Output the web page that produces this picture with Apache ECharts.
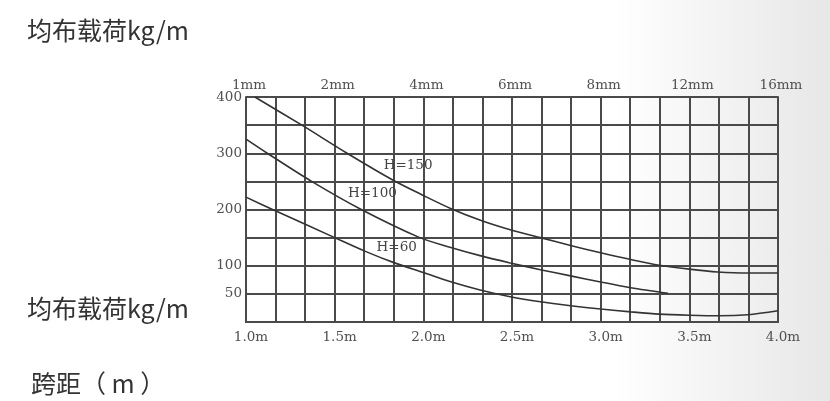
<!DOCTYPE html>
<html><head><meta charset="utf-8">
<script src="https://cdn.jsdelivr.net/npm/echarts@6/dist/echarts.min.js"></script>
<style>
html,body{margin:0;padding:0;width:830px;height:401px;overflow:hidden;
background:linear-gradient(to right,#ffffff 0%,#ffffff 74%,#f2f2f2 88%,#e7e7e7 100%);}
#c{width:830px;height:401px;}
</style></head><body><div id="c"></div>
<script>
// ---- data ----
const spanTicks = [1.0, 1.5, 2.0, 2.5, 3.0, 3.5, 4.0];
const spanLabels = ['1.0m', '1.5m', '2.0m', '2.5m', '3.0m', '3.5m', '4.0m'];
const thicknessLabels = ['1mm', '2mm', '4mm', '6mm', '8mm', '12mm', '16mm'];
const loadTickLabels = [50, 100, 200, 300, 400];

const seriesNames = ['H=150', 'H=100', 'H=60'];

const spanH150 = [1.05, 1.32, 1.57, 1.83, 2.0, 2.16, 2.33, 2.49, 2.66, 2.83, 3.0, 3.17, 3.33, 3.5, 3.66, 3.83, 4.0];
const loadH150 = [400, 349, 300, 252, 225, 201, 180, 164, 150, 136, 123, 111, 101, 94, 89, 87, 87];

const spanH100 = [1.0, 1.12, 1.37, 1.65, 1.98, 2.15, 2.32, 2.49, 2.66, 2.83, 3.0, 3.17, 3.38];
const loadH100 = [325, 300, 250, 200, 150, 133, 118, 105, 93, 82, 71, 61, 51];

const spanH60 = [1.0, 1.15, 1.5, 1.67, 1.83, 2.0, 2.15, 2.32, 2.49, 2.66, 2.83, 3.0, 3.17, 3.33, 3.5, 3.67, 3.83, 4.0];
const loadH60 = [222, 200, 150, 126, 106, 88, 72, 57, 45, 36, 29, 23, 18, 14, 12, 11, 13, 20];

// where each curve's name label sits, in data units [span, load]
const labelSpan = [1.914, 1.713, 1.85];
const labelLoad = [279, 229, 132];

const yTitle = '均布载荷kg/m';
const xTitle = '跨距（ m ）';

// ---- chart ----
const gridColor = '#4a4a4a';
const serif = '"DejaVu Serif", "Liberation Serif", serif';
const cjk = '"Noto Sans CJK SC", "Noto Sans", sans-serif';

function zip(xs, ys) { return xs.map((x, i) => [x, ys[i]]); }
const seriesData = [zip(spanH150, loadH150), zip(spanH100, loadH100), zip(spanH60, loadH60)];

function idxOf(arr, v) { return arr.findIndex(a => Math.abs(a - v) < 1e-6); }

const titleStyle = {fontFamily: cjk, fontSize: 25, fontWeight: 'normal', color: '#333'};

const chart = echarts.init(document.getElementById('c'), null, {renderer: 'canvas'});
chart.setOption({
  animation: false,
  backgroundColor: 'transparent',
  title: [
    {text: yTitle, left: 22, top: 13, textStyle: titleStyle},
    {text: yTitle, left: 22, top: 291, textStyle: titleStyle},
    {text: xTitle, left: 26, top: 366, textStyle: titleStyle}
  ],
  grid: {left: 246, right: 52, top: 97, bottom: 79, containLabel: false},
  xAxis: [
    {
      type: 'value', position: 'bottom', min: 1, max: 4, interval: 0.5,
      axisLine: {show: true, lineStyle: {color: gridColor, width: 2}},
      axisTick: {show: false},
      minorTick: {show: false, splitNumber: 3},
      splitLine: {show: true, lineStyle: {color: gridColor, width: 2}},
      minorSplitLine: {show: true, lineStyle: {color: gridColor, width: 2}},
      axisLabel: {
        margin: 8, fontFamily: serif, fontSize: 13.5, color: '#505050', padding: [0, 0, 0, 10],
        formatter: v => { const i = idxOf(spanTicks, v); return i >= 0 ? spanLabels[i] : ''; }
      }
    },
    {
      type: 'value', position: 'top', min: 1, max: 4, interval: 0.5,
      axisLine: {show: true, lineStyle: {color: gridColor, width: 2}},
      axisTick: {show: false},
      splitLine: {show: false},
      axisLabel: {
        margin: 5, fontFamily: serif, fontSize: 13.5, color: '#505050', padding: [0, 0, 0, 6],
        formatter: v => { const i = idxOf(spanTicks, v); return i >= 0 ? thicknessLabels[i] : ''; }
      }
    }
  ],
  yAxis: [
    {
      type: 'value', position: 'left', min: 0, max: 400, interval: 50,
      axisLine: {show: true, lineStyle: {color: gridColor, width: 2}},
      axisTick: {show: false},
      splitLine: {show: true, lineStyle: {color: gridColor, width: 2}},
      axisLabel: {
        margin: 4, fontFamily: serif, fontSize: 13.5, color: '#505050', padding: [3, 0, 0, 0],
        formatter: v => loadTickLabels.includes(v) ? String(v) : ''
      }
    },
    {
      type: 'value', position: 'right', min: 0, max: 400, interval: 50,
      axisLine: {show: true, lineStyle: {color: gridColor, width: 2}},
      axisTick: {show: false}, axisLabel: {show: false}, splitLine: {show: false}
    }
  ],
  series: seriesNames.map((name, i) => ({
    name: name, type: 'line', smooth: 0.3, symbol: 'none',
    xAxisIndex: 0, yAxisIndex: 0,
    lineStyle: {color: '#333', width: 1.6},
    data: seriesData[i],
    z: 5,
    markPoint: {
      symbol: 'circle', symbolSize: 0, silent: true,
      label: {show: true, formatter: name, fontFamily: serif, fontSize: 13.5, color: '#444', position: 'inside'},
      data: [{coord: [labelSpan[i], labelLoad[i]]}]
    }
  }))
});
</script></body></html>
